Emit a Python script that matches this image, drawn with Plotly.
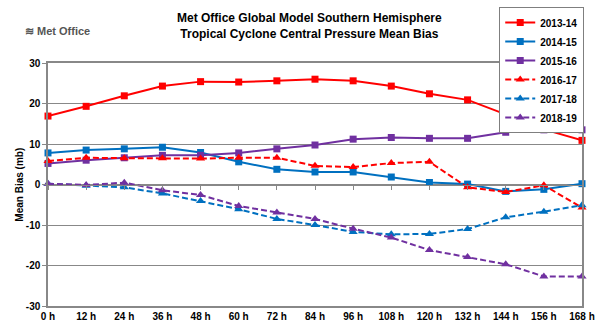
import plotly.graph_objects as go

hours = [0, 12, 24, 36, 48, 60, 72, 84, 96, 108, 120, 132, 144, 156, 168]
tick_labels = [f"{h} h" for h in hours]

s2013_14 = [16.9, 19.3, 21.9, 24.3, 25.4, 25.3, 25.6, 26.0, 25.6, 24.3, 22.4, 20.9, 17.3, 13.6, 10.9]
s2014_15 = [7.8, 8.5, 8.8, 9.2, 7.9, 5.6, 3.75, 3.1, 3.1, 1.85, 0.5, 0.1, -1.7, -1.2, 0.2]
s2015_16 = [5.2, 6.0, 6.6, 7.2, 7.2, 7.8, 8.8, 9.75, 11.2, 11.6, 11.4, 11.4, 12.9, 13.5, 13.5]
s2016_17 = [5.8, 6.6, 6.5, 6.5, 6.4, 6.6, 6.6, 4.6, 4.3, 5.3, 5.6, -0.7, -1.85, -0.2, -5.7]
s2017_18 = [0.2, -0.3, -0.7, -2.2, -4.1, -6.1, -8.5, -10.0, -11.7, -12.3, -12.2, -11.0, -8.1, -6.7, -5.1]
s2018_19 = [0.2, -0.1, 0.45, -1.4, -2.6, -5.3, -6.9, -8.5, -10.9, -13.1, -16.2, -17.9, -19.7, -22.7, -22.7]

RED = "#FF0000"
BLUE = "#0070C0"
PURPLE = "#7030A0"

series = [
    ("2013-14", s2013_14, RED, "solid", "square"),
    ("2014-15", s2014_15, BLUE, "solid", "square"),
    ("2015-16", s2015_16, PURPLE, "solid", "square"),
    ("2016-17", s2016_17, RED, "dash", "triangle-up"),
    ("2017-18", s2017_18, BLUE, "dash", "triangle-up"),
    ("2018-19", s2018_19, PURPLE, "dash", "triangle-up"),
]

FONT = "Liberation Sans Narrow, Liberation Sans, Arial"

fig = go.Figure()
for name, vals, col, dash, sym in series:
    fig.add_trace(go.Scatter(
        x=hours, y=vals, name=f"<b>{name}</b>", mode="lines+markers",
        line=dict(color=col, width=2, dash="6px,3px" if dash == "dash" else "solid"),
        marker=dict(symbol=sym, size=7 if sym == "square" else 8, color=col),
        cliponaxis=False,
    ))

# invisible trace to carry the zero-crossing tick axis
fig.add_trace(go.Scatter(x=[hours[0]], y=[0], xaxis="x2", showlegend=False,
                         mode="markers", marker=dict(opacity=0), hoverinfo="skip"))

fig.update_layout(
    width=600, height=332,
    margin=dict(l=48, r=18, t=63, b=26, autoexpand=False),
    paper_bgcolor="white", plot_bgcolor="white",
    font=dict(family=FONT, color="#000000"),
    legend=dict(
        x=0.845, y=1.23, xanchor="left", yanchor="top",
        bgcolor="white", bordercolor="#7f7f7f", borderwidth=1,
        font=dict(size=10, family="Liberation Sans, Arial", color="black"),
        tracegroupgap=0, itemwidth=30,
    ),
    showlegend=True,
)

fig.update_xaxes(
    range=[0, 168], tickmode="array", tickvals=hours, ticktext=[f"<b>{t}</b>" for t in tick_labels],
    showgrid=False, zeroline=False, showline=True, linecolor="#888888", linewidth=1.5,
    mirror=True, ticks="", tickfont=dict(size=10, family=FONT, color="black"), automargin=False,
)
fig.update_yaxes(
    range=[-30, 30], tickmode="array", tickvals=[-30, -20, -10, 0, 10, 20, 30],
    ticktext=["<b>-30</b>", "<b>-20</b>", "<b>-10</b>", "<b>0</b>", "<b>10</b>", "<b>20</b>", "<b>30</b>"],
    showgrid=True, gridcolor="#888888", gridwidth=1.2,
    zeroline=False, showline=True, linecolor="#888888", linewidth=1.5, mirror=True,
    ticks="outside", ticklen=4, tickcolor="#888888",
    tickfont=dict(size=10, family=FONT, color="black"), automargin=False,
)

fig.update_layout(xaxis2=dict(
    overlaying="x", matches="x", anchor="free", position=0.5,
    tickmode="array", tickvals=hours, showticklabels=False,
    ticks="outside", ticklen=4, tickcolor="#888888", tickwidth=1.2,
    showline=True, linecolor="#888888", linewidth=1.2, showgrid=False, zeroline=False,
))

fig.add_annotation(
    xref="paper", yref="paper", x=-0.054, y=0.5, xanchor="center", yanchor="middle",
    text="<b>Mean Bias (mb)</b>", textangle=-90, showarrow=False,
    font=dict(size=10, family=FONT, color="black"),
)

fig.add_annotation(
    xref="paper", yref="paper", x=0.49, y=1.152, xanchor="center", yanchor="middle",
    text="<b>Met Office Global Model Southern Hemisphere<br>Tropical Cyclone Central Pressure Mean Bias</b>",
    showarrow=False, font=dict(size=12, family=FONT, color="black"),
)

fig.add_annotation(
    xref="paper", yref="paper", x=0.017, y=1.132, xanchor="center", yanchor="middle",
    text="<b>≋ Met Office</b>", showarrow=False,
    font=dict(size=11, family=FONT, color="#555555"),
)

fig.write_html("out.html")
